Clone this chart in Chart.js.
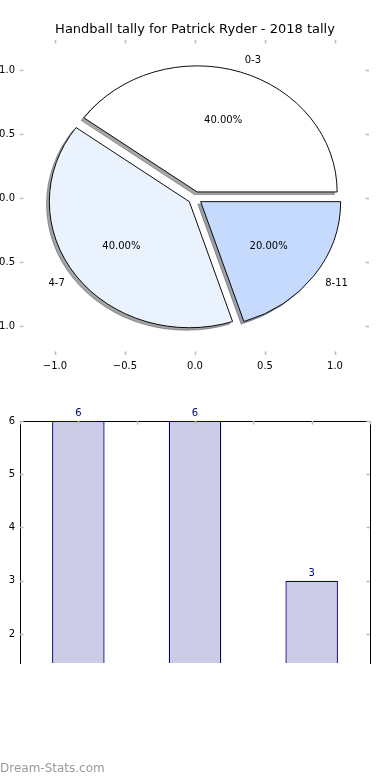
<!DOCTYPE html>
<html>
<head>
<meta charset="utf-8">
<script src="https://cdn.jsdelivr.net/npm/chart.js@4.4.1/dist/chart.umd.min.js"></script>
<style>
  html, body { margin: 0; padding: 0; background: #fff; width: 390px; height: 780px; overflow: hidden; }
  #pie { position: absolute; left: 0; top: 0; }
  #bars { position: absolute; left: 0; top: 380px; }
  #mark { position: absolute; left: 0; top: 761px; font: 12px "DejaVu Sans", sans-serif; line-height: 14px; color: #9a9a9a; }
</style>
</head>
<body>
<canvas id="pie" width="390" height="380"></canvas>
<canvas id="bars" width="390" height="400"></canvas>
<div id="mark">Dream-Stats.com</div>
<script>
// data
const titleText = "Handball tally for Patrick Ryder - 2018 tally";
const categories = ["0-3", "4-7", "8-11"];
const tally = [6, 6, 3];
const explode = [0.05, 0.05, 0.05];
const pieColors = ["#ffffff", "#eaf2fe", "#c6dafd"];
const pieXTicks = [-1.0, -0.5, 0.0, 0.5, 1.0];
const pieYTicks = [1.0, 0.5, 0.0, -0.5, -1.0];
const barYTicks = [2, 3, 4, 5, 6];

const FONT = "DejaVu Sans";
const pieRadius = 140;

const fmt = v => (v < 0 ? "\u2212" : "") + Math.abs(v).toFixed(1);

// matplotlib counts counter-clockwise from 3 o'clock, chart.js goes clockwise
const rev = a => a.slice().reverse();

function squash(chart) {
    const x = chart.scales.x, y = chart.scales.y;
    const kx = x.getPixelForValue(1) - x.getPixelForValue(0);
    const ky = y.getPixelForValue(0) - y.getPixelForValue(1);
    return ky / kx * 0.985;
}

function shadeOf(hex) {
    const n = parseInt(hex.slice(1), 16);
    const r = Math.round(((n >> 16) & 255) * 0.3);
    const g = Math.round(((n >> 8) & 255) * 0.3);
    const b = Math.round((n & 255) * 0.3);
    return "rgba(" + r + "," + g + "," + b + ",0.5)";
}

// draws inward tick marks like matplotlib
const innerTicks = {
    id: "innerTicks",
    afterDraw(chart, args, opts) {
        const ctx = chart.ctx, a = chart.chartArea;
        const xs = chart.scales[opts.xScale], ys = chart.scales[opts.yScale];
        ctx.save();
        ctx.strokeStyle = "#bdbdbd";
        ctx.lineWidth = 1.5;
        ctx.beginPath();
        opts.xValues.forEach(v => {
            const px = Math.round(xs.getPixelForValue(v)) + 0.5;
            if (opts.sides.includes("top")) { ctx.moveTo(px, a.top); ctx.lineTo(px, a.top + 3.5); }
            if (opts.sides.includes("bottom")) { ctx.moveTo(px, a.bottom); ctx.lineTo(px, a.bottom - 3.5); }
        });
        opts.yValues.forEach(v => {
            const py = Math.round(ys.getPixelForValue(v)) + 0.5;
            if (opts.sides.includes("left")) { ctx.moveTo(a.left, py); ctx.lineTo(a.left + 3.5, py); }
            if (opts.sides.includes("right")) { ctx.moveTo(a.right, py); ctx.lineTo(a.right - 3.5, py); }
        });
        ctx.stroke();
        ctx.restore();
    }
};

// squashes the pie into the data aspect, explodes wedges, adds shadow and labels
const pieLook = {
    id: "pieLook",
    beforeDatasetsDraw(chart) {
        const ctx = chart.ctx;
        const ds = chart.data.datasets[0];
        const arcs = chart.getDatasetMeta(0).data;
        const k = squash(chart);
        // pie sits on the data origin
        const ox = chart.scales.x.getPixelForValue(0);
        const oy = chart.scales.y.getPixelForValue(0);
        const cx = arcs[0].x, cy = arcs[0].y;

        const shift = arcs.map((arc, i) => {
            const mid = (arc.startAngle + arc.endAngle) / 2;
            const e = ds.explode[i] * arc.outerRadius;
            return [e * Math.cos(mid), e * Math.sin(mid)];
        });

        ctx.save();
        ctx.translate(ox, oy);
        ctx.scale(1, k);
        ctx.translate(-cx, -cy);

        // shadows below every wedge
        arcs.forEach((arc, i) => {
            const o = arc.options;
            const shade = shadeOf(o.backgroundColor);
            ctx.save();
            ctx.translate(shift[i][0] - 0.02 * arc.outerRadius, shift[i][1] + 0.02 * arc.outerRadius);
            arc.options = Object.assign({}, o, { backgroundColor: shade, borderColor: shade });
            arc.draw(ctx);
            arc.options = o;
            ctx.restore();
        });

        // wedges in matplotlib order
        for (let i = arcs.length - 1; i >= 0; i--) {
            ctx.save();
            ctx.translate(shift[i][0], shift[i][1]);
            arcs[i].draw(ctx);
            ctx.restore();
        }
        ctx.restore();

        // labels
        const vals = ds.data;
        const total = vals.reduce((s, v) => s + v, 0);
        ctx.save();
        ctx.fillStyle = "#000";
        ctx.font = "10px '" + FONT + "'";
        ctx.textBaseline = "middle";
        arcs.forEach((arc, i) => {
            const mid = (arc.startAngle + arc.endAngle) / 2;
            const r = arc.outerRadius;
            const c = Math.cos(mid), s = Math.sin(mid);
            const bx = ox + shift[i][0], by = oy + shift[i][1] * k;
            ctx.textAlign = c > 0 ? "left" : "right";
            ctx.fillText(chart.data.labels[i], bx + 1.1 * r * c, by + 1.1 * r * s * k);
            ctx.textAlign = "center";
            ctx.fillText((vals[i] / total * 100).toFixed(2) + "%", bx + 0.6 * r * c, by + 0.6 * r * s * k);
        });
        ctx.restore();
        return false;
    }
};

new Chart(document.getElementById("pie"), {
    type: "pie",
    data: {
        labels: rev(categories),
        datasets: [{
            data: rev(tally),
            explode: rev(explode),
            backgroundColor: rev(pieColors),
            borderColor: "#000",
            borderWidth: 1
        }]
    },
    options: {
        responsive: false,
        animation: false,
        devicePixelRatio: 1,
        rotation: 90,
        radius: pieRadius,
        plugins: {
            legend: { display: false },
            tooltip: { enabled: false },
            title: {
                display: true,
                text: titleText,
                color: "#000",
                font: { family: FONT, size: 13, weight: "normal" },
                padding: { top: 22, bottom: 2.4 }
            },
            innerTicks: { xScale: "x", yScale: "y", xValues: pieXTicks, yValues: pieYTicks, sides: ["top", "bottom", "left", "right"] }
        },
        scales: {
            x: {
                type: "linear",
                position: "bottom",
                min: -1.25,
                max: 1.243,
                afterBuildTicks: s => { s.ticks = pieXTicks.map(v => ({ value: v })); },
                afterFit: s => { s.height = 25; },
                grid: { display: false, drawTicks: false },
                border: { display: false },
                ticks: { padding: 5, color: "#000", font: { family: FONT, size: 10 }, maxRotation: 0, autoSkip: false, callback: v => fmt(v) }
            },
            y: {
                type: "linear",
                position: "left",
                min: -1.227,
                max: 1.234,
                afterBuildTicks: s => { s.ticks = pieYTicks.map(v => ({ value: v })); },
                afterFit: s => { s.width = 20; },
                grid: { display: false, drawTicks: false },
                border: { display: false },
                ticks: { padding: 5, color: "#000", font: { family: FONT, size: 10 }, autoSkip: false, callback: v => fmt(v) }
            },
            yRight: {
                type: "linear",
                position: "right",
                min: -1.227,
                max: 1.234,
                afterFit: s => { s.width = 21; },
                grid: { display: false, drawTicks: false },
                border: { display: false },
                ticks: { display: false }
            }
        }
    },
    plugins: [pieLook, innerTicks]
});

// value labels above the bars
const barValues = {
    id: "barValues",
    afterDatasetsDraw(chart) {
        const ctx = chart.ctx;
        const meta = chart.getDatasetMeta(0);
        const vals = chart.data.datasets[0].data;
        ctx.save();
        ctx.fillStyle = "#000080";
        ctx.font = "10px '" + FONT + "'";
        ctx.textAlign = "center";
        ctx.textBaseline = "alphabetic";
        meta.data.forEach((bar, i) => {
            ctx.fillText(String(vals[i]), bar.x, bar.y - 5);
        });
        ctx.restore();
    }
};

const halfSteps = [];
for (let i = -1; i < categories.length * 2; i++) halfSteps.push(i / 2);

new Chart(document.getElementById("bars"), {
    type: "bar",
    data: {
        labels: categories,
        datasets: [{
            data: tally,
            backgroundColor: "#cccce6",
            borderColor: "#000080",
            borderWidth: 1.3,
            barPercentage: 0.45,
            categoryPercentage: 1
        }]
    },
    options: {
        responsive: false,
        animation: false,
        devicePixelRatio: 1,
        layout: { padding: { top: 41, right: 20, bottom: 117 } },
        plugins: {
            legend: { display: false },
            tooltip: { enabled: false },
            innerTicks: { xScale: "x", yScale: "y", xValues: halfSteps, yValues: barYTicks, sides: ["top", "left", "right"] }
        },
        scales: {
            x: {
                type: "category",
                position: "top",
                offset: true,
                afterFit: s => { s.height = 0; },
                grid: { display: false, drawTicks: false },
                border: { display: true, color: "#000", width: 1 },
                ticks: { display: false }
            },
            y: {
                type: "linear",
                position: "left",
                min: 1.455,
                max: 6,
                afterBuildTicks: s => { s.ticks = barYTicks.map(v => ({ value: v })); },
                afterFit: s => { s.width = 20; },
                grid: { display: false, drawTicks: false },
                border: { display: true, color: "#000", width: 1 },
                ticks: { padding: 5, color: "#000", font: { family: FONT, size: 10 }, autoSkip: false }
            },
            y2: {
                type: "linear",
                position: "right",
                min: 1.455,
                max: 6,
                afterFit: s => { s.width = 0; },
                grid: { display: false, drawTicks: false },
                border: { display: true, color: "#000", width: 1 },
                ticks: { display: false }
            }
        }
    },
    plugins: [barValues, innerTicks]
});
</script>
</body>
</html>
